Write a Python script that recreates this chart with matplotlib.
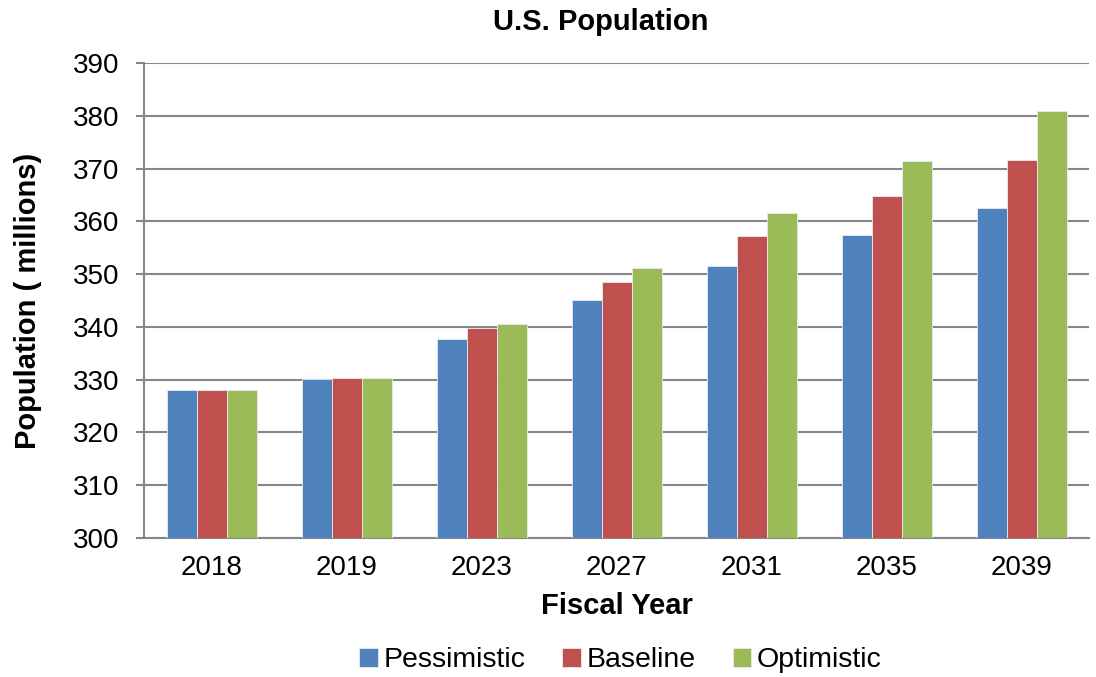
import numpy as np
import matplotlib.pyplot as plt

plt.rcParams['font.family'] = ['Liberation Sans', 'DejaVu Sans']

years = ['2018', '2019', '2023', '2027', '2031', '2035', '2039']
pessimistic = [328.0, 330.1, 337.8, 345.1, 351.6, 357.4, 362.6]
baseline = [328.0, 330.3, 339.7, 348.6, 357.2, 364.8, 371.7]
optimistic = [328.0, 330.4, 340.6, 351.1, 361.6, 371.5, 380.9]

series = [('Pessimistic', pessimistic, '#4F81BD'),
          ('Baseline', baseline, '#C0504D'),
          ('Optimistic', optimistic, '#9BBB59')]

fig = plt.figure(figsize=(10.96, 6.77), dpi=100)
ax = fig.add_axes([0.1314, 0.2053, 0.8626, 0.7016])

x = np.arange(len(years))
w = 0.222
for i, (name, vals, col) in enumerate(series):
    ax.bar(x + (i - 1) * w, np.array(vals) - 300, bottom=300, width=w,
           color=col, edgecolor='#e6ecf2', linewidth=0.6, label=name, zorder=3)

ax.set_ylim(300, 390)
ax.set_xlim(-0.5, len(years) - 0.5)
ax.set_yticks(range(300, 391, 10))
ax.set_xticks(x)
ax.set_xticklabels(years)
ax.yaxis.grid(True, color='#868686', linewidth=1.5, zorder=0)
ax.set_axisbelow(True)

for s in ['top', 'right']:
    ax.spines[s].set_visible(False)
ax.spines['left'].set_color('#868686')
ax.spines['left'].set_linewidth(1.5)
ax.spines['bottom'].set_color('#868686')
ax.spines['bottom'].set_linewidth(1.5)
ax.tick_params(axis='y', length=6, width=1.5, color='#868686', labelsize=20, pad=12)
ax.tick_params(axis='x', length=0, labelsize=20, pad=12)

fig.text(0.548, 0.967, 'U.S. Population', fontsize=21, fontweight='bold',
         ha='center', va='center')
ax.set_xlabel('Fiscal Year', fontsize=21, fontweight='bold', labelpad=8)
ax.set_ylabel('Population ( millions)', fontsize=21, fontweight='bold', labelpad=22)

fig.legend(loc='center', bbox_to_anchor=(0.566, 0.025), ncol=3, frameon=False,
           fontsize=20.5, handlelength=0.65, handleheight=0.65, handletextpad=0.2,
           columnspacing=1.3)

fig.savefig('out.png', dpi=100)
